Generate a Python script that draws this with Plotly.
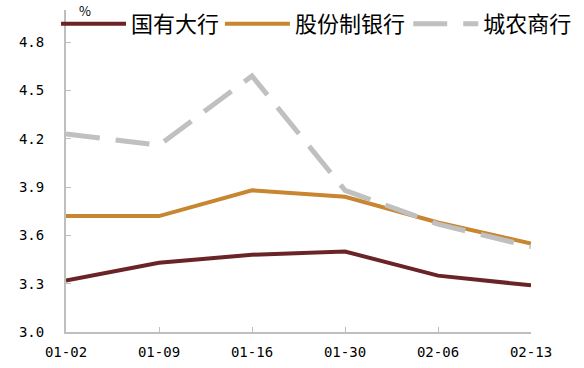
import plotly.graph_objects as go

dates = ["01-02", "01-09", "01-16", "01-30", "02-06", "02-13"]
big_banks = [3.32, 3.43, 3.48, 3.50, 3.35, 3.29]
joint_stock = [3.72, 3.72, 3.88, 3.84, 3.68, 3.55]
city_rural = [4.23, 4.16, 4.59, 3.88, 3.67, 3.53]
y_ticks = [3.0, 3.3, 3.6, 3.9, 4.2, 4.5, 4.8]

FONT = "Noto Sans CJK SC"
TICK_FONT = "DejaVu Sans Mono"

fig = go.Figure()
fig.add_trace(go.Scatter(x=dates, y=big_banks, mode="lines", name="国有大行",
                         legend="legend",
                         line=dict(color="#6A2326", width=4)))
fig.add_trace(go.Scatter(x=dates, y=joint_stock, mode="lines", name="股份制银行",
                         legend="legend2",
                         line=dict(color="#C7862F", width=4)))
fig.add_trace(go.Scatter(x=dates, y=city_rural, mode="lines", name="城农商行",
                         legend="legend3",
                         line=dict(color="#C0C0C0", width=5, dash="34px,16px")))

leg_common = dict(orientation="h", yanchor="middle", xanchor="left",
                  bgcolor="rgba(0,0,0,0)", font=dict(size=22, family=FONT, color="#000"),
                  itemwidth=65)

fig.update_layout(
    width=584, height=368,
    margin=dict(l=66, r=53, t=10, b=36, autoexpand=False),
    paper_bgcolor="white", plot_bgcolor="white",
    font=dict(family=FONT, color="#000000", size=15),
    showlegend=True,
    legend=dict(x=-0.0215, y=0.957, **leg_common),
    legend2=dict(x=0.331, y=0.957, **leg_common),
    legend3=dict(x=0.736, y=0.957, **leg_common),
    annotations=[dict(text="%", xref="paper", yref="paper", x=0.041, y=1.0,
                      xanchor="center", yanchor="middle", showarrow=False,
                      borderpad=0, font=dict(size=13, family=FONT))],
)
fig.update_xaxes(
    type="category", range=[0, 5], showgrid=False, zeroline=False,
    showline=True, linecolor="#BFBFBF", linewidth=2,
    ticks="inside", ticklen=5, tickcolor="#BFBFBF", tickwidth=1,
    tickfont=dict(size=14, family=TICK_FONT), ticklabelstandoff=6,
)
fig.update_yaxes(
    range=[3.0, 5.0], tickvals=y_ticks, ticktext=[f"{v:.1f}" for v in y_ticks],
    showgrid=False, zeroline=False,
    showline=True, linecolor="#BFBFBF", linewidth=2,
    ticks="inside", ticklen=5, tickcolor="#BFBFBF", tickwidth=1,
    tickfont=dict(size=14, family=TICK_FONT), ticklabelstandoff=17,
)

fig.write_html("out.html", config={"displayModeBar": False},
               post_script="document.body.style.margin='0';")
